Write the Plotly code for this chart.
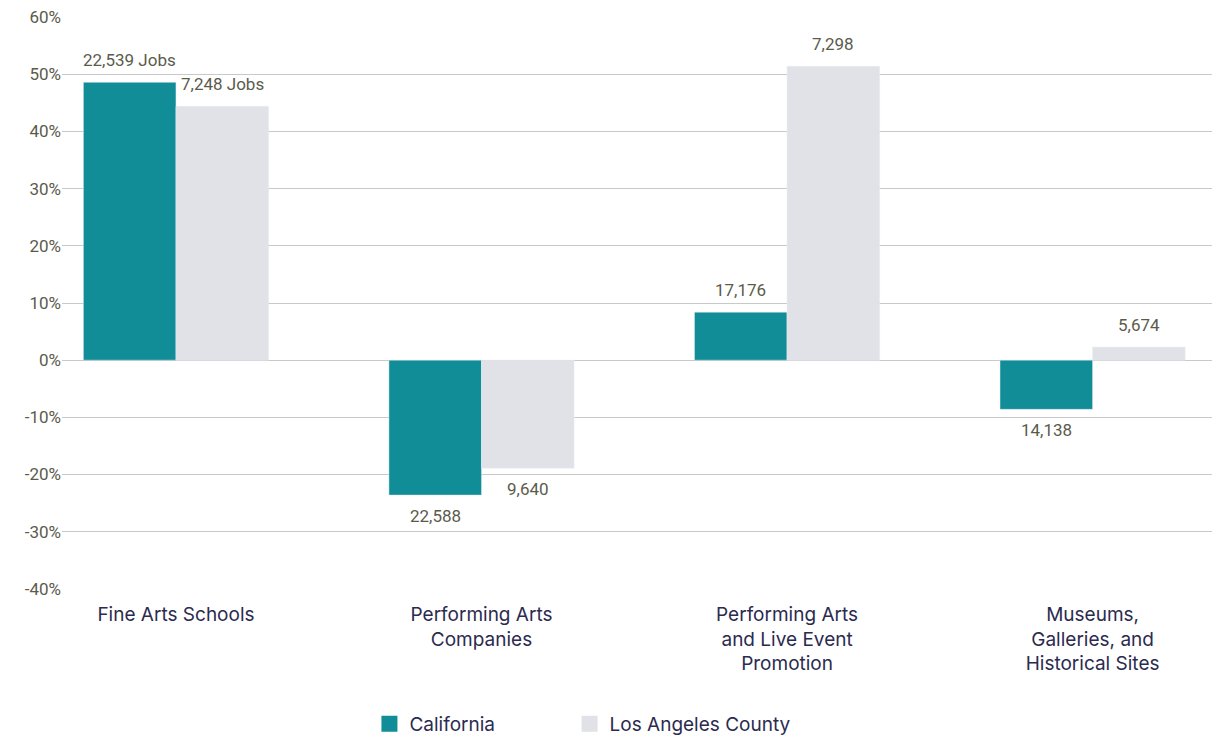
import plotly.graph_objects as go

categories = ["Fine Arts Schools", "Performing Arts<br>Companies",
              "Performing Arts<br>and Live Event<br>Promotion",
              "Museums,<br>Galleries, and<br>Historical Sites"]
ca_values = [48.6, -23.6, 8.4, -8.6]
la_values = [44.4, -18.9, 51.4, 2.3]
ca_labels = ["22,539 Jobs", "22,588", "17,176", "14,138"]
la_labels = ["7,248 Jobs", "9,640", "7,298", "5,674"]
y_ticks = [-40, -30, -20, -10, 0, 10, 20, 30, 40, 50, 60]
y_tick_text = [f"{v}%" for v in y_ticks]

TEAL = "#118D97"
LIGHT = "#E1E2E7"
LABEL_COLOR = "#5B5B4C"
CAT_COLOR = "#2B2B4F"
NUM_FONT = "Roboto, sans-serif"
CAT_FONT = "Inter, Roboto, sans-serif"
BARGAP = 0.394

fig = go.Figure()
fig.add_trace(go.Bar(x=categories, y=ca_values, name="California", marker_color=TEAL,
                     showlegend=False))
fig.add_trace(go.Bar(x=categories, y=la_values, name="Los Angeles County", marker_color=LIGHT,
                     showlegend=False))
# legend entries with larger square swatches, each in its own legend box
for name, col, lg in [("California", TEAL, "legend"), ("Los Angeles County", LIGHT, "legend2")]:
    fig.add_trace(go.Scatter(x=[None], y=[None], mode="markers", name=name, legend=lg,
                             marker=dict(symbol="square", size=17, color=col)))

# value labels placed at each bar's end
half = (1 - BARGAP) / 4
for i, cat in enumerate(categories):
    for vals, labs, off in [(ca_values, ca_labels, -half), (la_values, la_labels, half)]:
        v = vals[i]
        fig.add_annotation(x=i + off, y=v, xref="x", yref="y", text=labs[i],
                           showarrow=False, yshift=22 if v >= 0 else -21,
                           font=dict(family=NUM_FONT, size=17, color=LABEL_COLOR))

legend_common = dict(orientation="h", xanchor="left", y=-0.236, yanchor="middle",
                     font=dict(family=CAT_FONT, size=19, color=CAT_COLOR),
                     itemsizing="trace", bgcolor="rgba(0,0,0,0)")
fig.update_layout(
    width=1212, height=732,
    margin=dict(l=54, r=0, t=9, b=151, autoexpand=False),
    plot_bgcolor="white", paper_bgcolor="white",
    barmode="group", bargap=BARGAP, bargroupgap=0,
    showlegend=True,
    legend=dict(x=0.2655, **legend_common),
    legend2=dict(x=0.4383, **legend_common),
)
fig.update_xaxes(
    type="category", range=[-0.373, 3.417], showgrid=False, zeroline=False, showline=False,
    ticks="", automargin=False, ticklabelstandoff=12,
    tickfont=dict(family=CAT_FONT, size=19, color=CAT_COLOR),
)
fig.update_yaxes(
    range=[-40.02, 60.02], tickvals=y_ticks, ticktext=y_tick_text, automargin=False,
    ticklabeloverflow="allow",
    showgrid=True, gridcolor="#C9C9C9", gridwidth=1,
    zeroline=True, zerolinecolor="#C9C9C9", zerolinewidth=1,
    showline=False, ticks="",
    tickfont=dict(family=NUM_FONT, size=17, color=LABEL_COLOR),
)

fig.write_html("out.html")
